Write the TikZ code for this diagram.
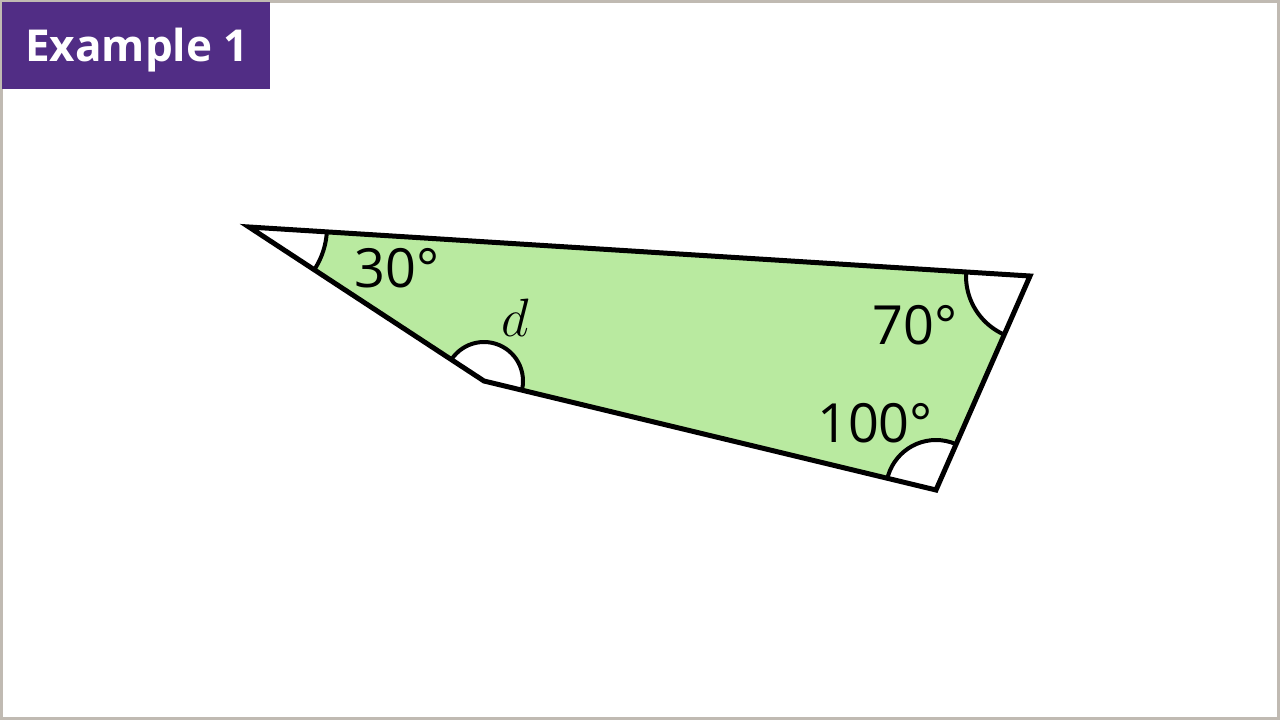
\documentclass[tikz,border=0pt]{standalone}
\usepackage{fix-cm}
\usepackage{fontspec}
\setmainfont{Open Sans}
\usepackage{tikz}
\usetikzlibrary{calc}

\definecolor{titlepurple}{RGB}{81,45,133}
\definecolor{shapegreen}{RGB}{185,234,160}
\definecolor{framegrey}{RGB}{192,186,178}

\begin{document}
\begin{tikzpicture}[x=1pt,y=-1pt,line join=miter]
\useasboundingbox (0,0) rectangle (1280,720);

%Define angle-arc radii
\def\rA{78}          %Arc radius at the 30 degree corner.
\def\rB{64}          %Arc radius at the 70 degree corner.
\def\rC{50}          %Arc radius at the 100 degree corner.
\def\rD{39}          %Arc radius at the d corner.

% Define corners
\coordinate (A) at (249,227);
\coordinate (B) at (1030,276);
\coordinate (C) at (936,490);
\coordinate (D) at (484,381);

% Frame and title tab.
\draw[color=framegrey,line width=3] (1.5,1.5) rectangle (1278.5,718.5);
\fill[color=titlepurple] (2,2) rectangle (270,89);
\node[anchor=base west,inner sep=0,text=white,font=\fontsize{44}{44}\selectfont\bfseries] (title) at (25,61) {Example 1};

% Shaded shape.
\fill[color=shapegreen] (A) -- (B) -- (C) -- (D) -- cycle;

% Angle marks, kept inside the shape.
\begin{scope}
\clip (A) -- (B) -- (C) -- (D) -- cycle;
\fill[white] (A) circle (\rA) (B) circle (\rB) (C) circle (\rC) (D) circle (\rD);
\draw[line width=4] (A) circle (\rA) (B) circle (\rB) (C) circle (\rC) (D) circle (\rD);
\end{scope}

% Outline.
\draw[line width=5] (A) -- (B) -- (C) -- (D) -- cycle;

% Angle labels.
\node[font=\fontsize{54}{54}\selectfont] (lA) at (397,268) {30°};
\node[font=\fontsize{54}{54}\selectfont] (lB) at (915,325) {70°};
\node[font=\fontsize{54}{54}\selectfont] (lC) at (875,423) {100°};
\node[font=\fontsize{54}{54}\selectfont] (lD) at (515,318) {$d$};

\end{tikzpicture}
\end{document}
